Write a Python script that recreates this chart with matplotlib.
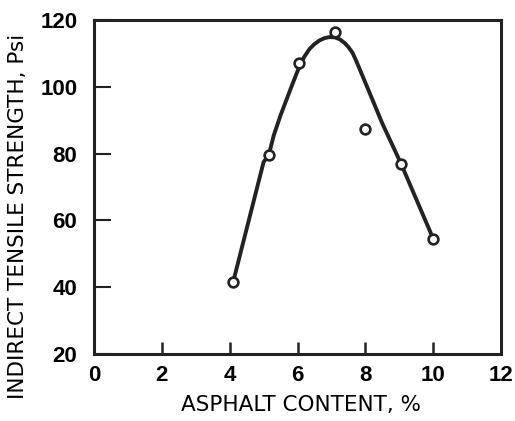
import numpy as np
import matplotlib
matplotlib.use("Agg")
import matplotlib.pyplot as plt

# measured points (asphalt content %, indirect tensile strength psi)
asphalt = [4.1, 5.15, 6.05, 7.1, 8.0, 9.05, 10.0]
strength = [41.5, 79.5, 107.0, 116.5, 87.5, 77.0, 54.5]

# hand drawn fitted curve
curve_x = [4.1, 5.0, 5.15, 5.3, 5.5, 5.8, 6.05, 6.2, 6.35, 6.5, 6.65, 6.8, 6.95, 7.1, 7.25,
           7.4, 7.5, 7.62, 7.72, 8.05, 8.5, 9.05, 10.0]
curve_y = [41.5, 77.5, 79.5, 85.5, 91.5, 99.5, 106.0, 109.0, 111.3, 112.8, 113.9, 114.6, 114.9,
           114.8, 114.2, 113.0, 111.9, 110.2, 108.0, 100.0, 89.0, 77.0, 54.5]

xticks = [0, 2, 4, 6, 8, 10, 12]
yticks = [20, 40, 60, 80, 100, 120]

fig = plt.figure(figsize=(5.15, 4.21), dpi=100)
ax = fig.add_axes([0.1825, 0.159, 0.7905, 0.7935])

ax.plot(curve_x, curve_y, color="#222222", lw=2.8, solid_capstyle="round",
        solid_joinstyle="round", zorder=2)
ax.plot(asphalt, strength, "o", ms=7, mfc="white", mec="#222222", mew=1.9, zorder=3)

ax.set_xlim(0, 12)
ax.set_ylim(20, 120)
ax.set_xticks(xticks)
ax.set_yticks(yticks)
ax.set_xticklabels([str(v) for v in xticks], fontsize=16, fontweight="bold",
                   family="Liberation Sans")
ax.set_yticklabels([str(v) for v in yticks], fontsize=16, fontweight="bold",
                   family="Liberation Sans")
ax.tick_params(axis="x", direction="in", length=9, width=1.8, pad=8, color="#222222")
ax.tick_params(axis="y", direction="in", length=12, width=1.5, pad=12, color="#222222")

for s in ax.spines.values():
    s.set_linewidth(2.2)
    s.set_color("#222222")

ax.set_xlabel("ASPHALT CONTENT, %", fontsize=15.5, family="DejaVu Sans")
ax.set_ylabel("INDIRECT TENSILE STRENGTH, Psi", fontsize=15.5, family="DejaVu Sans")
ax.xaxis.set_label_coords(0.508, -0.122)
ax.yaxis.set_label_coords(-0.163, 0.413)

fig.savefig("out.png", dpi=100)
